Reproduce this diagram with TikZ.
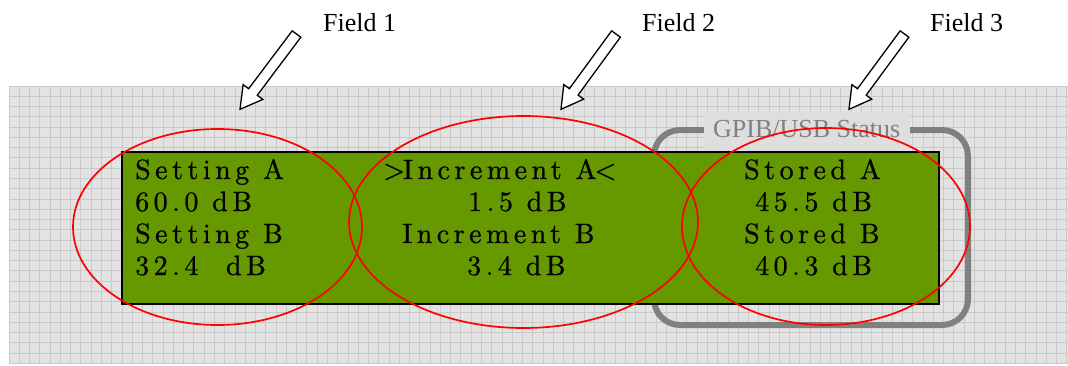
\documentclass[tikz,border=0pt]{standalone}
\usepackage{fontspec}
\newfontfamily\tnr{Liberation Serif}
\newfontfamily\lcdfamily{lmroman10-regular.otf}[LetterSpace=16,FakeBold=0.8]
\usetikzlibrary{calc}
\definecolor{bggray}{HTML}{E3E3E3}
\definecolor{gridgray}{HTML}{C9C9C9}
\definecolor{lcdgreen}{HTML}{669900}
\definecolor{statgray}{HTML}{808080}
\definecolor{labelbg}{HTML}{DEDEDE}
\newcommand\blockarr[2]{%
  \coordinate (ha) at ($(#2)!21.6pt!(#1)$);
  \draw[blockarrow] ($(#1)!5.4pt!90:(#2)$) -- ($(ha)!5.4pt!90:(#2)$) -- ($(ha)!12.3pt!90:(#2)$) -- (#2)
    -- ($(ha)!12.3pt!-90:(#2)$) -- ($(ha)!5.4pt!-90:(#2)$) -- ($(#1)!5.4pt!-90:(#2)$) -- cycle;}
\begin{document}
\begin{tikzpicture}[x=1pt,y=-1pt,
  lcdtext/.style={anchor=base west, inner sep=0pt, font=\lcdfamily\fontsize{28}{32}\selectfont},
  fieldlabel/.style={anchor=base west, inner sep=0pt, font=\tnr\fontsize{26}{30}\selectfont},
  fieldell/.style={draw=red, line width=1.7pt},
  blockarrow/.style={draw=black, line width=1.3pt, fill=white, line join=miter},
  gridline/.style={gridgray, line width=0.8pt},
  lcdbox/.style={draw=black, line width=1.5pt, fill=lcdgreen, inner sep=0pt, anchor=north west},
  statusframe/.style={statgray, line width=6pt, rounded corners=26pt},
]
\useasboundingbox (0,0) rectangle (1068,365);
\fill[white] (0,0) rectangle (1068,365);
% grid background
\fill[bggray] (9,86) rectangle (1068,364);
\foreach \i in {0,...,103} \draw[gridline] ({9+\i*10.27},86) -- ({9+\i*10.27},364);
\foreach \j in {0,...,27} \draw[gridline] (9,{86+\j*10.27}) -- (1068,{86+\j*10.27});
% status frame
\draw[statusframe] (654,130) rectangle (968,325);
\fill[labelbg] (704,112) rectangle (910,150);
\node[anchor=base west, inner sep=0pt, text=statgray, font=\tnr\fontsize{26}{30}\selectfont] (status) at (713,137) {GPIB/USB Status};
% LCD
\node[lcdbox, minimum width=817pt, minimum height=152pt] (lcd) at (121,151) {};
\node[lcdtext] (a1) at (135,179) {Setting A};
\node[lcdtext] (a2) at (135,211) {60.0 dB};
\node[lcdtext] (a3) at (135,243) {Setting B};
\node[lcdtext] (a4) at (135,275) {32.4\ \ dB};
\node[lcdtext] (b1) at (383,179) {>\kern-2pt Increment A\kern-2pt<};
\node[lcdtext] (b2) at (468,211) {1.5 dB};
\node[lcdtext] (b3) at (402,243) {Increment B};
\node[lcdtext] (b4) at (467,275) {3.4 dB};
\node[lcdtext] (c1) at (744,179) {Stored A};
\node[lcdtext] (c2) at (755,211) {45.5 dB};
\node[lcdtext] (c3) at (744,243) {Stored B};
\node[lcdtext] (c4) at (755,275) {40.3 dB};
% field labels and arrows
\node[fieldlabel] (f1) at (323,31) {Field 1};
\node[fieldlabel] (f2) at (642,31) {Field 2};
\node[fieldlabel] (f3) at (930,31) {Field 3};
\coordinate (t1) at (296.5,34); \coordinate (p1) at (240,109.3);
\coordinate (t2) at (616,34);   \coordinate (p2) at (561,109.3);
\coordinate (t3) at (904.5,34); \coordinate (p3) at (849,109.3);
\blockarr{t1}{p1}
\blockarr{t2}{p2}
\blockarr{t3}{p3}
% field ellipses
\draw[fieldell] (217.5,227) ellipse [x radius=144.5pt, y radius=98pt];
\draw[fieldell] (523.5,222) ellipse [x radius=174.5pt, y radius=106pt];
\draw[fieldell] (826,226.5) ellipse [x radius=144pt, y radius=98.5pt];
\end{tikzpicture}
\end{document}
